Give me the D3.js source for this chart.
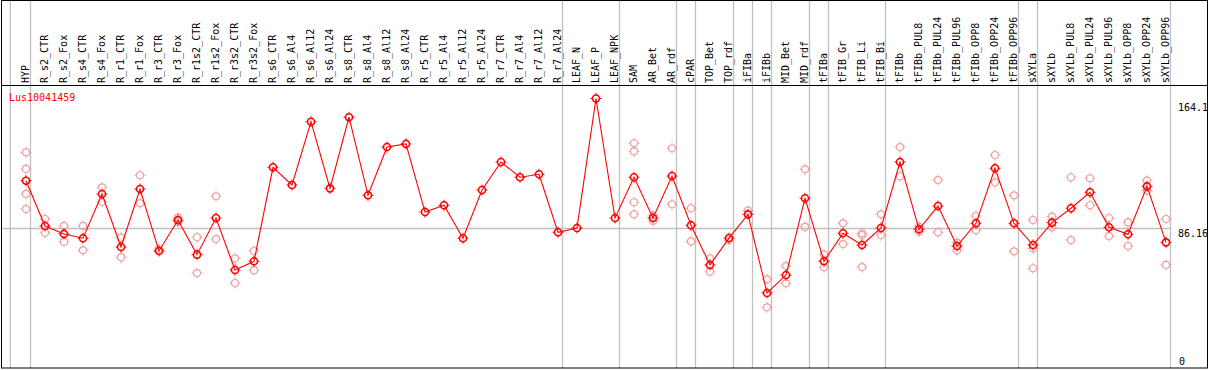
<!DOCTYPE html>
<html><head><meta charset="utf-8">
<script src="https://cdn.jsdelivr.net/npm/d3@7"></script>
<style>body{margin:0;background:#fff}svg{display:block}text{font-family:"DejaVu Sans Mono",monospace;font-size:10px}</style>
</head><body><svg id="c" width="1209" height="370"></svg>
<script>
const categories = ["HYP","R_s2_CTR","R_s2_Fox","R_s4_CTR","R_s4_Fox","R_r1_CTR","R_r1_Fox","R_r3_CTR","R_r3_Fox","R_r1s2_CTR","R_r1s2_Fox","R_r3s2_CTR","R_r3s2_Fox","R_s6_CTR","R_s6_Al4","R_s6_Al12","R_s6_Al24","R_s8_CTR","R_s8_Al4","R_s8_Al12","R_s8_Al24","R_r5_CTR","R_r5_Al4","R_r5_Al12","R_r5_Al24","R_r7_CTR","R_r7_Al4","R_r7_Al12","R_r7_Al24","LEAF_N","LEAF_P","LEAF_NPK","SAM","AR_Bet","AR_rdf","cPAR","TOP_Bet","TOP_rdf","iFIBa","iFIBb","MID_Bet","MID_rdf","tFIBa","tFIB_Gr","tFIB_Li","tFIB_Bi","tFIBb","tFIBb_PUL8","tFIBb_PUL24","tFIBb_PUL96","tFIBb_OPP8","tFIBb_OPP24","tFIBb_OPP96","sXYLa","sXYLb","sXYLb_PUL8","sXYLb_PUL24","sXYLb_PUL96","sXYLb_OPP8","sXYLb_OPP24","sXYLb_OPP96"];
const meanValues = [114.5,87.2,82.4,79.8,106.5,74.5,109.5,72.1,90.8,69.9,92.0,60.6,65.9,122.6,111.9,150.1,109.9,152.8,105.7,134.8,136.7,95.6,99.7,79.8,108.9,125.8,116.6,118.4,83.4,86.0,164.1,92.0,116.6,92.0,117.3,87.6,63.7,79.9,94.2,46.8,57.6,103.9,65.9,82.8,75.7,86.0,125.8,85.2,99.2,75.1,88.8,122.0,88.8,75.7,89.2,97.9,107.5,86.4,82.2,111.1,77.3];
const replicateValues = [[131.6,121.6,106.5,97.4],[91.4,83.1],[87.2,77.7],[87.2,72.5],[110.5,101.8],[80.1,68.3],[117.8,100.9],[73.3],[92.2,89.8],[80.4,58.8],[105.1,79.3],[67.7,52.8],[72.1,60.5],[],[],[],[],[],[],[],[],[],[],[],[],[],[],[],[],[],[],[],[137.1,132.2,101.5,94.2],[93.4,90.2],[134.1,100.3],[97.9,77.9],[67.7,59.6],[78.7],[96.4],[55.0,38.1],[63.0,52.6],[121.4,86.6],[70.1,62.3],[88.8,76.3],[82.8,81.8,62.4],[94.2,81.6],[134.8,117.2],[86.8,83.7],[114.9,83.4],[77.1,72.5],[93.2,84.6],[130.0,113.5],[105.7,71.9],[90.8,73.7,61.7],[92.8,86.4],[116.6,78.7],[116.0,99.7],[92.0,81.1],[89.4,75.1],[114.5,108.5],[91.4,63.7]];
const separatorAfter = ["HYP","R_r7_Al24","LEAF_NPK","AR_rdf","cPAR","TOP_rdf","iFIBa","iFIBb","MID_rdf","tFIBa","tFIB_Bi","tFIBb_OPP96","sXYLa","sXYLb_OPP96"];
const geneName = "Lus10041459";
const yTickLabels = ["164.1","86.16","0"];
const yMax = 164.1, yMean = 86.16;

const svg = d3.select("#c");
const x = d3.scaleBand().domain(categories).range([16.5, 16.5 + 19*categories.length]);
const cx = c => x(c) + x.bandwidth()/2;
const y = d3.scaleLinear().domain([0, yMax]).range([370.5, 98.5]);
const plotRight = cx(categories[categories.length-1]) + 4.5;

// separators
svg.selectAll("line.sep").data(separatorAfter).join("line")
  .attr("x1", d => cx(d)+4.5).attr("x2", d => cx(d)+4.5).attr("y1", 0).attr("y2", 368)
  .attr("stroke", "#c0c0c0").attr("stroke-width", 1.3);
svg.append("line").attr("x1", cx(categories[0])-15.7).attr("x2", cx(categories[0])-15.7)
  .attr("y1",0).attr("y2",368).attr("stroke","#c0c0c0").attr("stroke-width",1.3);
// mean line
svg.append("line").attr("x1",1).attr("x2",plotRight).attr("y1",Math.round(y(yMean))+0.5).attr("y2",Math.round(y(yMean))+0.5)
  .attr("stroke","#c0c0c0").attr("stroke-width",1.3);

// frame
svg.append("rect").attr("x",1.5).attr("y",0.5).attr("width",1206).attr("height",367.5).attr("fill","none").attr("stroke","#000");
svg.append("line").attr("x1",1).attr("x2",1208).attr("y1",85.5).attr("y2",85.5).attr("stroke","#000");

// header labels
svg.selectAll("text.cat").data(categories).join("text")
  .attr("transform", d => `translate(${cx(d)+2.5},83) rotate(-90)`)
  .attr("fill","#000").text(d => d);

svg.append("text").attr("x",9).attr("y",101).attr("fill","red").text(geneName);

// y labels
svg.append("text").attr("x",1178).attr("y",y(yMax)+12).text(yTickLabels[0]);
svg.append("text").attr("x",1178).attr("y",y(yMean)+9).text(yTickLabels[1]);
svg.append("text").attr("x",1179).attr("y",364.5).text(yTickLabels[2]);

function marker(g, px, py, color, sw){
  g.append("circle").attr("cx",px).attr("cy",py).attr("r",3.5).attr("fill","none").attr("stroke",color).attr("stroke-width",sw);
  const t = [[0,-1],[0,1],[-1,0],[1,0]];
  t.forEach(([dx,dy]) => g.append("line").attr("x1",px+dx*3.5).attr("y1",py+dy*3.5).attr("x2",px+dx*5.5).attr("y2",py+dy*5.5).attr("stroke",color).attr("stroke-width",1));
}

// replicates
const rg = svg.append("g");
categories.forEach((c,i) => replicateValues[i].forEach(v => marker(rg, cx(c), y(v), "#f0a0a0", 1.2)));

// line
svg.append("path").datum(meanValues).attr("fill","none").attr("stroke","red").attr("stroke-width",1.1)
  .attr("d", d3.line().x((d,i) => cx(categories[i])).y(d => y(d)));
const mg = svg.append("g");
categories.forEach((c,i) => marker(mg, cx(c), y(meanValues[i]), "red", 1.6));
</script></body></html>
